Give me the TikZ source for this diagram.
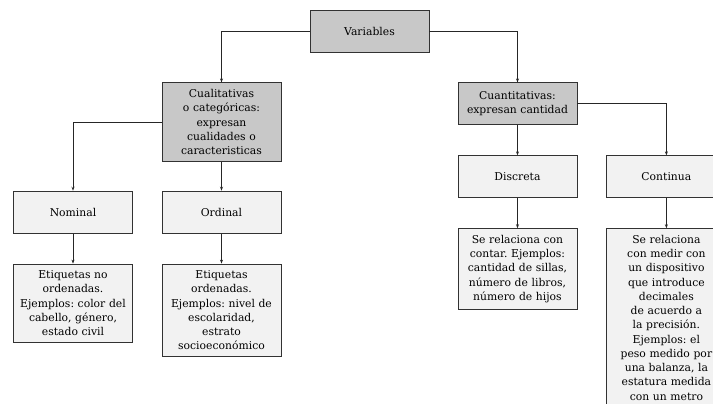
\documentclass[tikz,border=0pt]{standalone}
\usepackage{fontspec}
\setmainfont{DejaVu Serif}
\usepackage{tikz}
\usetikzlibrary{positioning,arrows.meta}
\frenchspacing

\definecolor{headfill}{RGB}{200,200,200}
\definecolor{leaffill}{RGB}{242,242,242}
\definecolor{edgegray}{RGB}{50,50,50}

\tikzset{
    box/.style={draw=edgegray, line width=0.9pt, align=center, inner xsep=3pt, inner ysep=6.5pt,
        minimum width=119pt, minimum height=42pt, text width=113pt,
        font=\fontsize{10.8}{14.25}\selectfont},
    headbox/.style={box, fill=headfill},
    leafbox/.style={box, fill=leaffill},
    link/.style={-{Stealth[length=4pt,width=3pt]}, line width=0.8pt, black!85},
}

\begin{document}
\begin{tikzpicture}
    \clip (0,0) rectangle (713pt,-404pt);
    \useasboundingbox (0,0) rectangle (713pt,-404pt);

    \node [headbox] (variables) at (369.5pt,-31pt) {Variables};

    \node [headbox, below=30pt of variables, xshift=-148pt] (cualitativas) {Cualitativas\\o categóricas:\\expresan\\cualidades o\\caracteristicas};
    \node [headbox, below=30pt of variables, xshift=148pt] (cuantitativas) {Cuantitativas:\\expresan cantidad};

    \node [leafbox, below=29pt of cualitativas, xshift=-148.5pt] (nominal) {Nominal};
    \node [leafbox, below=29pt of cualitativas] (ordinal) {Ordinal};
    \node [leafbox, below=30pt of cuantitativas] (discreta) {Discreta};
    \node [leafbox, right=29pt of discreta] (continua) {Continua};

    \node [leafbox, below=30pt of nominal] (nominal_ej) {Etiquetas no\\ordenadas.\\Ejemplos: color del\\cabello, género,\\estado civil};
    \node [leafbox, below=30pt of ordinal] (ordinal_ej) {Etiquetas\\ordenadas.\\Ejemplos: nivel de\\escolaridad,\\estrato\\socioeconómico};
    \node [leafbox, below=30pt of discreta] (discreta_ej) {Se relaciona con\\contar. Ejemplos:\\cantidad de sillas,\\número de libros,\\número de hijos};
    \node [leafbox, below=30pt of continua] (continua_ej) {Se relaciona\\con medir con\\un dispositivo\\que introduce\\decimales\\de acuerdo a\\la precisión.\\Ejemplos: el\\peso medido por\\una balanza, la\\estatura medida\\con un metro};

    \draw[link] (variables) -| (cualitativas);
    \draw[link] (variables) -| (cuantitativas);
    \draw[link] (cualitativas) -| (nominal);
    \draw[link] (cualitativas) -- (ordinal);
    \draw[link] (cuantitativas) -- (discreta);
    \draw[link] (cuantitativas) -| (continua);
    \draw[link] (nominal) -- (nominal_ej);
    \draw[link] (ordinal) -- (ordinal_ej);
    \draw[link] (discreta) -- (discreta_ej);
    \draw[link] (continua) -- (continua_ej);

\end{tikzpicture}
\end{document}
